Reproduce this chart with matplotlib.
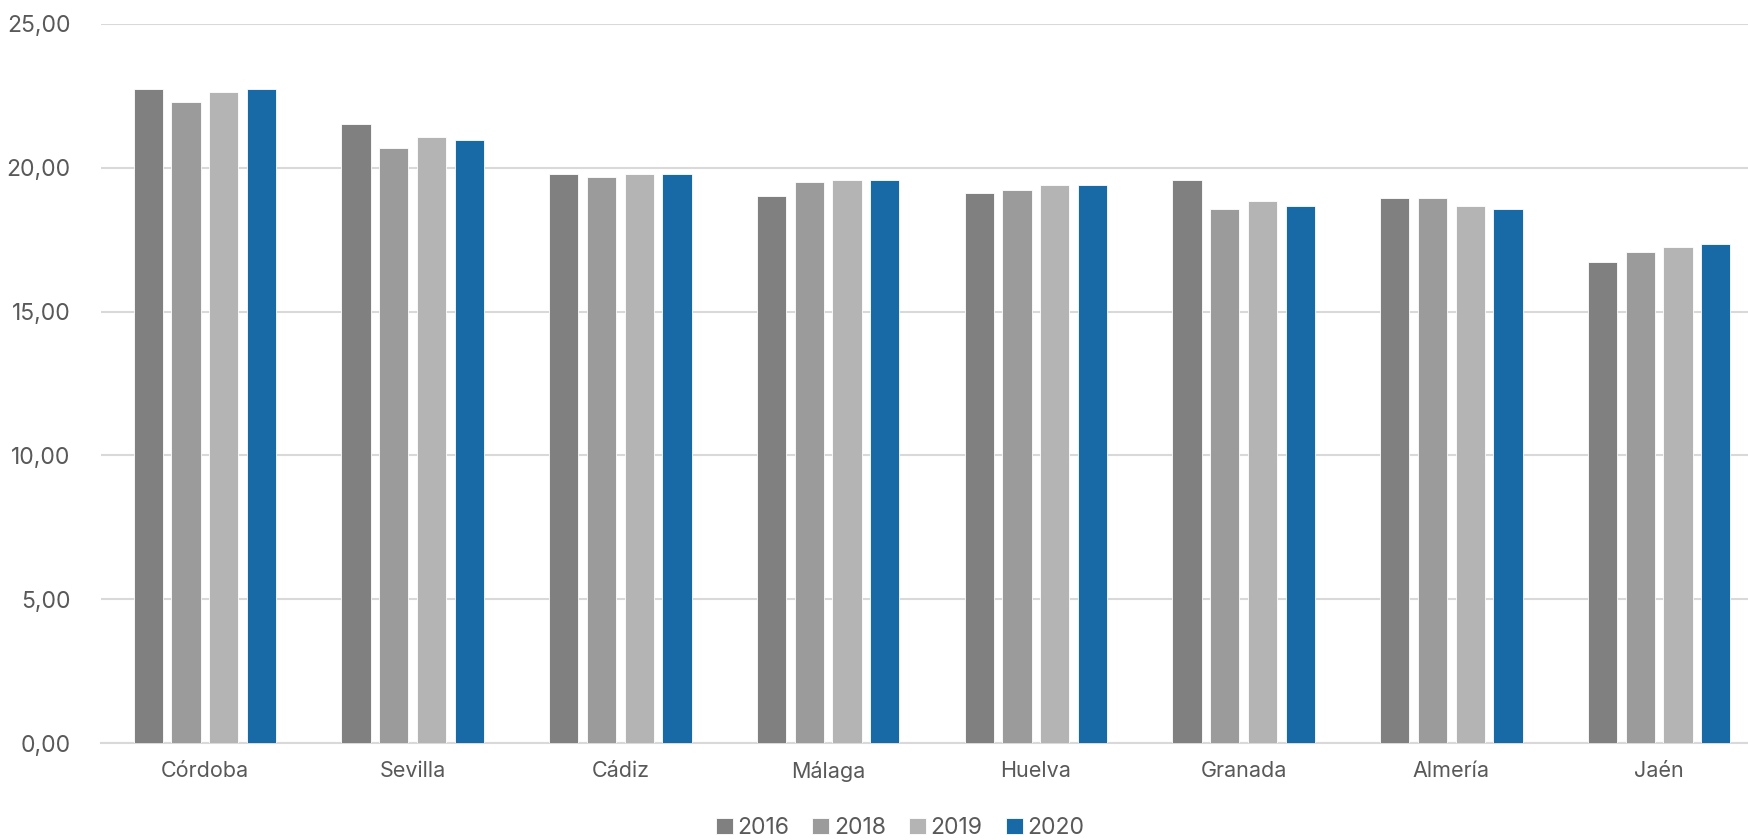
import matplotlib
matplotlib.use("Agg")
import matplotlib.pyplot as plt
import numpy as np
from matplotlib.ticker import FuncFormatter

provincias = ["Córdoba", "Sevilla", "Cádiz", "Málaga", "Huelva", "Granada", "Almería", "Jaén"]
years = ["2016", "2018", "2019", "2020"]
v2016 = [22.73, 21.53, 19.78, 19.02, 19.13, 19.58, 18.94, 16.72]
v2018 = [22.28, 20.69, 19.67, 19.50, 19.22, 18.57, 18.94, 17.08]
v2019 = [22.64, 21.06, 19.78, 19.58, 19.40, 18.85, 18.66, 17.26]
v2020 = [22.73, 20.97, 19.78, 19.58, 19.40, 18.66, 18.57, 17.35]
series = [v2016, v2018, v2019, v2020]
colors = ["#808080", "#9b9b9b", "#b4b4b4", "#176aa6"]
yticks = [0, 5, 10, 15, 20, 25]

plt.rcParams['font.family'] = ['Inter', 'DejaVu Sans']
W, H = 1749, 840
fig = plt.figure(figsize=(W/100, H/100), dpi=100)
left, right, top, bottom = 101, 1763, 24, 743
ax = fig.add_axes([left/W, 1-bottom/H, (right-left)/W, (bottom-top)/H])

x = np.arange(len(provincias))
step = 0.1815
bw = 0.141
for i, (vals, c, yr) in enumerate(zip(series, colors, years)):
    ax.bar(x + (i-1.5)*step, vals, width=bw, color=c, label=yr,
           edgecolor="white", linewidth=0.6, zorder=3)

ax.set_xlim(-0.5, len(provincias)-0.5)
ax.set_ylim(0, 25)
ax.set_yticks(yticks)
ax.yaxis.set_major_formatter(FuncFormatter(lambda v, p: f"{v:.2f}".replace(".", ",")))
ax.grid(axis="y", color="#d9d9d9", linewidth=1.5, zorder=0)
ax.set_xticks(x)
ax.set_xticklabels(provincias)
for s in ["top", "right", "left"]:
    ax.spines[s].set_visible(False)
ax.spines["bottom"].set_color("#d9d9d9")
ax.spines["bottom"].set_linewidth(1.5)
ax.tick_params(axis="y", length=0, colors="#595959", labelsize=16.5, pad=22)
ax.tick_params(axis="x", length=0, colors="#595959", labelsize=15.5, pad=13)

handles, labels = ax.get_legend_handles_labels()
fig.legend(handles, labels, loc="center", bbox_to_anchor=(900/W, 1-828/H), ncol=4,
           frameon=False, fontsize=16.5, handlelength=0.75, handleheight=0.75,
           handletextpad=0.2, columnspacing=1.0, labelcolor="#595959")

fig.savefig("out.png", dpi=100)
